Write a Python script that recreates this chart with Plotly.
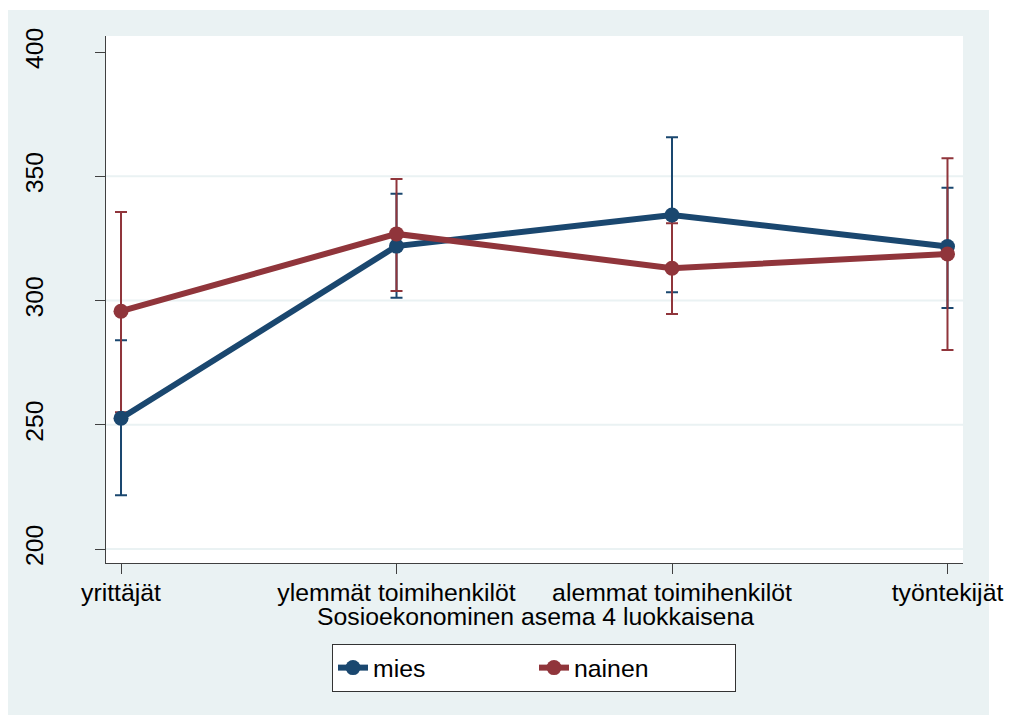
import plotly.graph_objects as go

# ---- data ----
categories = ["yrittäjät", "ylemmät toimihenkilöt", "alemmat toimihenkilöt", "työntekijät"]
cat_pos = [1, 2, 3, 4]

mies_mean = [252.6, 321.9, 334.4, 321.7]
mies_low = [221.6, 301.1, 303.3, 297.0]
mies_high = [284.0, 343.0, 365.7, 345.4]

nainen_mean = [295.7, 326.8, 313.0, 318.7]
nainen_low = [255.0, 303.8, 294.6, 280.1]
nainen_high = [335.6, 348.9, 331.1, 357.2]

y_ticks = [200, 250, 300, 350, 400]
grid_values = [200, 250, 300, 350]

x_title = "Sosioekonominen asema 4 luokkaisena"

# ---- styling ----
NAVY = "#1A476F"
MAROON = "#90353B"
PANEL = "#EAF2F3"
FONT = "Liberation Sans, Arial, sans-serif"
FS = 24.8

W, H = 1009, 715
L, R, T, B = 106, 46, 36, 152
pw, ph = W - L - R, H - T - B


def sx(px):  # screen px -> paper x
    return (px - L) / pw


def sy(py):  # screen px -> paper y
    return (H - B - py) / ph


fig = go.Figure()


def ci_trace(mean, low, high, color):
    return go.Scatter(
        x=cat_pos, y=mean, mode="markers",
        marker=dict(color="rgba(0,0,0,0)", size=1),
        error_y=dict(type="data", symmetric=False,
                     array=[h - m for h, m in zip(high, mean)],
                     arrayminus=[m - l for m, l in zip(mean, low)],
                     color=color, thickness=2, width=6),
        showlegend=False, hoverinfo="skip")


fig.add_trace(ci_trace(mies_mean, mies_low, mies_high, NAVY))
fig.add_trace(ci_trace(nainen_mean, nainen_low, nainen_high, MAROON))

fig.add_trace(go.Scatter(x=cat_pos, y=mies_mean, mode="lines+markers", name="mies",
                         line=dict(color=NAVY, width=6),
                         marker=dict(color=NAVY, size=15)))
fig.add_trace(go.Scatter(x=cat_pos, y=nainen_mean, mode="lines+markers", name="nainen",
                         line=dict(color=MAROON, width=6),
                         marker=dict(color=MAROON, size=15)))

shapes = [
    dict(type="rect", xref="paper", yref="paper", layer="below",
         x0=sx(8), x1=sx(989), y0=sy(715), y1=sy(10),
         fillcolor=PANEL, line=dict(width=0)),
    dict(type="rect", xref="paper", yref="paper", layer="below",
         x0=0, x1=1, y0=0, y1=1, fillcolor="white", line=dict(width=0)),
]
for g in grid_values:
    shapes.append(dict(type="line", xref="paper", yref="y", layer="below",
                       x0=0, x1=1, y0=g, y1=g,
                       line=dict(color=PANEL, width=2)))

fig.update_layout(
    width=W, height=H,
    margin=dict(l=L, r=R, t=T, b=B),
    paper_bgcolor="white", plot_bgcolor="rgba(0,0,0,0)",
    font=dict(family=FONT, size=FS, color="black"),
    shapes=shapes,
    annotations=[dict(text=x_title, xref="paper", yref="paper",
                      x=sx(535), y=sy(616), xanchor="center", yanchor="middle",
                      showarrow=False, font=dict(size=FS, color="black"))],
    showlegend=True,
    legend=dict(orientation="h", x=sx(534), xanchor="center",
                y=sy(644), yanchor="top",
                bgcolor="white", bordercolor="#333333", borderwidth=1,
                font=dict(size=FS, color="black"),
                entrywidth=156, itemwidth=30),
    xaxis=dict(range=[0.9455, 4.0563], tickmode="array", tickvals=cat_pos,
               ticktext=categories, showgrid=False, zeroline=False,
               showline=True, linecolor="#404040", linewidth=1,
               ticks="outside", ticklen=10, tickcolor="#404040", tickwidth=1,
               ticklabelstandoff=-3, automargin=False),
    yaxis=dict(range=[194.37, 406.44], tickmode="array", tickvals=y_ticks,
               showgrid=False, zeroline=False,
               showline=True, linecolor="#404040", linewidth=1,
               ticks="outside", ticklen=10, tickcolor="#404040", tickwidth=1,
               tickangle=-90, ticklabelstandoff=42, automargin=False),
)

fig.write_html("out.html",
               config={"displayModeBar": False},
               post_script="document.body.style.margin='0';"
                           "document.body.style.overflow='hidden';")
